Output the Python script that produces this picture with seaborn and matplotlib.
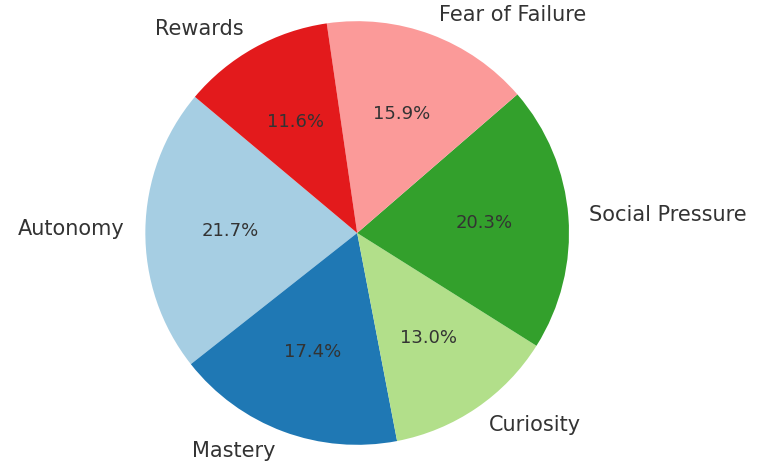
import matplotlib
matplotlib.use("Agg")
import matplotlib.pyplot as plt
import seaborn as sns

labels = ["Autonomy", "Mastery", "Curiosity", "Social Pressure", "Fear of Failure", "Rewards"]
values = [15, 12, 9, 14, 11, 8]

sns.set_theme(style="white")
colors = sns.color_palette("Paired", 6)

fig = plt.figure(figsize=(7.64, 4.66), dpi=100)
ax = fig.add_axes([0.0, 0.0, 0.935, 1.0])
wedges, texts, autotexts = ax.pie(values, labels=labels, colors=colors, autopct="%1.1f%%",
                                  startangle=140, textprops={"fontsize": 15, "color": "#333333"},
                                  radius=1.0, labeldistance=1.1,
                                  wedgeprops={"linewidth": 0, "edgecolor": "none"})
for t in autotexts:
    t.set_fontsize(13)
ax.axis("equal")
ax.set_xlim(-1.56, 1.56)
ax.set_ylim(-1.1, 1.1)
fig.savefig("out.png", dpi=100)
